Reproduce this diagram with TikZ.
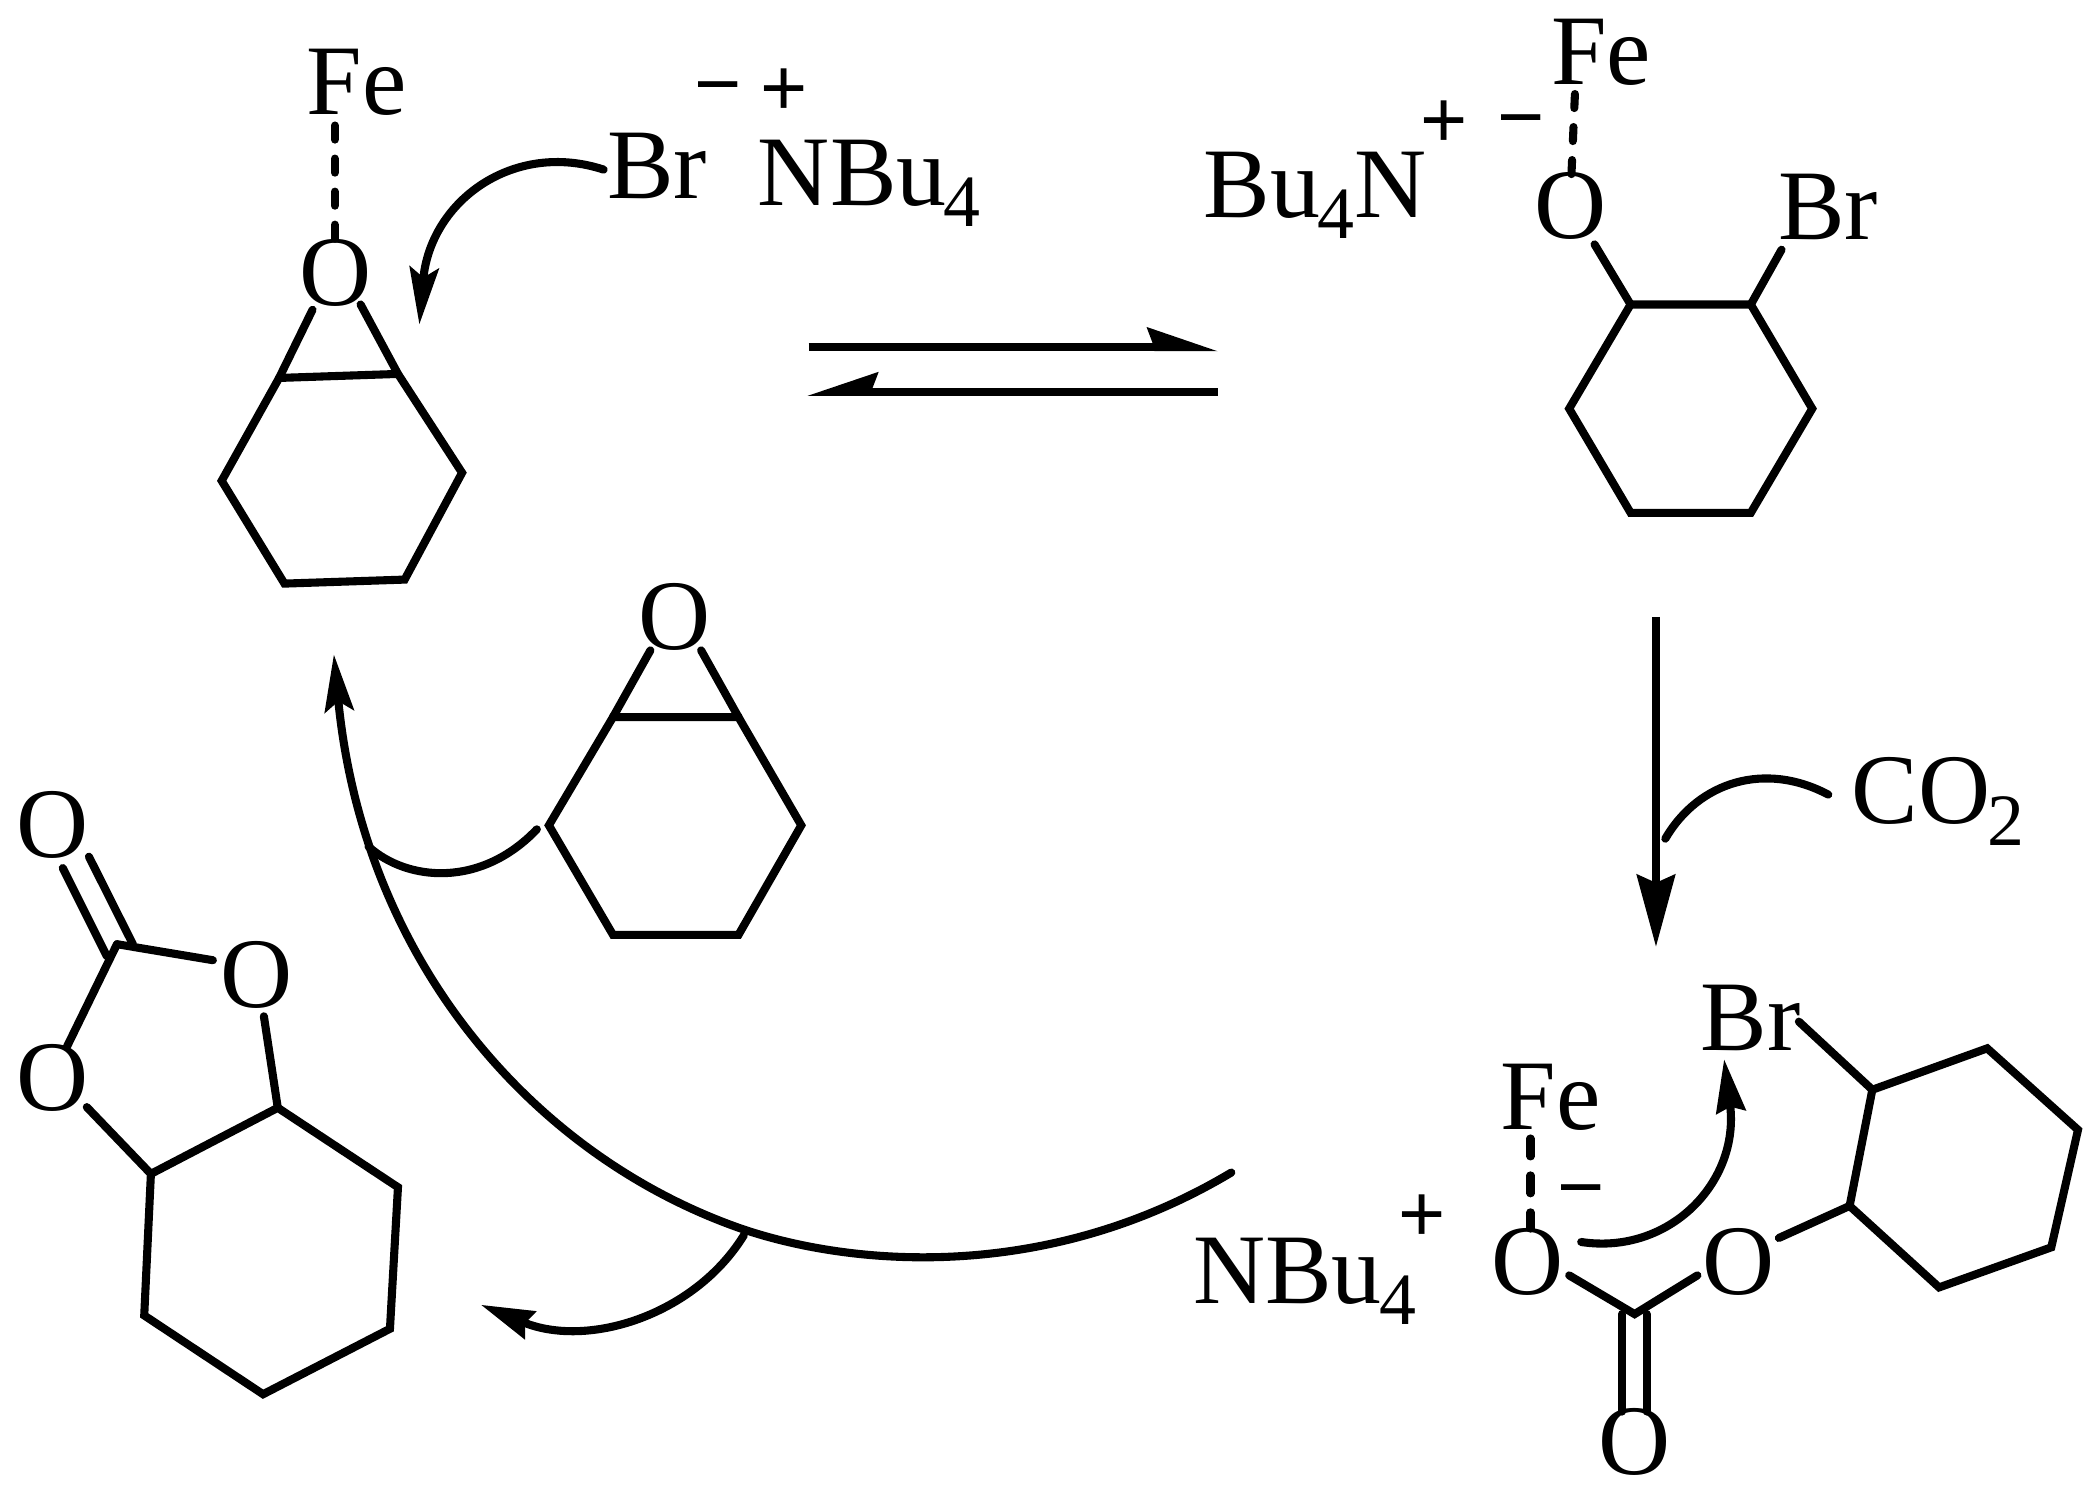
\documentclass[tikz,border=0pt]{standalone}
\usepackage{fontspec}
\setmainfont{Liberation Serif}
\newfontfamily\chgfont{Liberation Sans}
\usetikzlibrary{arrows.meta}
\newcommand{\subf}[1]{\kern-0.8pt\raisebox{-6pt}{\fontsize{21}{21}\selectfont #1}}
\tikzset{
  x=0.013355cm,y=-0.013355cm,
  atom/.style={inner sep=0pt,font=\fontsize{28.4}{32}\selectfont},
  chg/.style={inner sep=0pt,font=\fontsize{23}{28}\selectfont\chgfont},
  bond/.style={line width=2.3pt,line cap=round,line join=miter},
  dbond/.style={line width=2.3pt,line cap=round,dash pattern=on 4pt off 5.4pt},
  curly/.style={line width=2.3pt,line cap=round},
  tipc/.style={-{Stealth[length=0.57cm,width=0.29cm,inset=0.1cm]}},
  tipd/.style={-{Stealth[length=0.72cm,width=0.38cm,inset=0.08cm]}},
  tipe/.style={-{Stealth[length=0.53cm,width=0.29cm,inset=0.05cm]}},
  barb/.style={fill=black,draw=none},
}
\begin{document}
\begin{tikzpicture}
\useasboundingbox (0,0) rectangle (1568,1120.9);
% ---- top-left
\node[atom] (fe1) at (267,62) {Fe};
\node[atom] (o1) at (251,204) {O};
\node[atom,anchor=base west] (br1) at (454,149) {Br};
\node[chg] (m1) at (538,72) {−};
\node[chg] (p1) at (587,69) {+};
\node[atom,anchor=base west] (nbu1) at (567,154) {NBu\subf{4}};
\coordinate (a1) at (209,283);\coordinate (a2) at (166,360);\coordinate (a3) at (213,437);
\coordinate (a4) at (303,434);\coordinate (a5) at (346,354);\coordinate (a6) at (298,280);
\coordinate (a7) at (234,232);\coordinate (a8) at (270,228);
\coordinate (a9) at (250.7,94);\coordinate (a10) at (250.7,181);
\draw[bond] (a1)--(a2)--(a3)--(a4)--(a5)--(a6)--(a8);
\draw[bond] (a1)--(a7);
\draw[bond] (a1)--(a6);
\draw[dbond] (a9)--(a10);
\coordinate (c1) at (452,127);\coordinate (c2) at (314,243);
\draw[curly,tipc] (c1) .. controls (385,105) and (322,150) .. (c2);
% ---- equilibrium
\coordinate (e1) at (605.5,259.8);\coordinate (e2) at (868,259.8);\coordinate (e3) at (911.7,293.2);\coordinate (e4) at (650,293.2);
\draw[line width=2.27pt] (e1)--(e2);
\draw[line width=2.27pt] (e3)--(e4);
\fill[barb] (911.7,263)--(858.5,244.8)--(863,256.7)--(864.5,263)--cycle;
\fill[barb] (604.8,296.4)--(658,278.4)--(653.4,290.4)--(652.7,296.4)--cycle;
% ---- top-right
\node[atom] (fe2) at (1199,39) {Fe};
\node[atom] (o2) at (1176,154) {O};
\node[atom] (br2) at (1369,155) {Br};
\node[atom,anchor=base west] (bu) at (901,162.5) {Bu\subf{4}N};
\node[chg] (p2) at (1081,93) {+};
\node[chg] (m2) at (1139,97) {−};
\coordinate (b1) at (1221,228);\coordinate (b2) at (1175,306);\coordinate (b3) at (1221,384);
\coordinate (b4) at (1311,384);\coordinate (b5) at (1357,306);\coordinate (b6) at (1311,228);
\coordinate (b7) at (1194,183);\coordinate (b8) at (1334,187);
\coordinate (b9) at (1179.3,70.4);\coordinate (b10) at (1176.6,133);
\draw[bond] (b1)--(b2)--(b3)--(b4)--(b5)--(b6)--cycle;
\draw[bond] (b1)--(b7);
\draw[bond] (b6)--(b8);
\draw[dbond] (b9)--(b10);
% ---- down arrow
\coordinate (d1) at (1240,462);\coordinate (d2) at (1240,709);
\draw[line width=2.27pt,tipd] (d1)--(d2);
\node[atom,anchor=base west] (co2) at (1386,617) {CO\subf{2}};
\coordinate (d3) at (1369,595);\coordinate (d4) at (1247,628);
\draw[curly] (d3) .. controls (1322,570) and (1272,585) .. (d4);
% ---- bottom-right
\node[atom] (br3) at (1311,762) {Br};
\node[atom] (fe3) at (1161,822) {Fe};
\node[atom] (o3) at (1144,945) {O};
\node[atom] (o4) at (1302,945) {O};
\node[atom] (o5) at (1224,1080) {O};
\node[chg] (m3) at (1184,898) {−};
\node[chg] (p3) at (1065,912) {+};
\node[atom,anchor=base west] (nbu3) at (893,976) {NBu\subf{4}};
\coordinate (f1) at (1402,816);\coordinate (f2) at (1488,785);\coordinate (f3) at (1556,846);
\coordinate (f4) at (1536,934);\coordinate (f5) at (1452,964);\coordinate (f6) at (1385,903);
\coordinate (f7) at (1347,765);\coordinate (f8) at (1332,927);
\coordinate (f9) at (1175,955);\coordinate (f10) at (1224,984);\coordinate (f11) at (1271,955);
\coordinate (f12) at (1214.5,984);\coordinate (f13) at (1214.5,1057);\coordinate (f14) at (1233,984);\coordinate (f15) at (1233,1057);
\coordinate (f16) at (1146,852.5);\coordinate (f17) at (1146,920);
\draw[bond] (f1)--(f2)--(f3)--(f4)--(f5)--(f6)--cycle;
\draw[bond] (f1)--(f7);
\draw[bond] (f6)--(f8);
\draw[bond] (f9)--(f10)--(f11);
\draw[bond] (f12)--(f13);
\draw[bond] (f14)--(f15);
\draw[dbond,dash pattern=on 5.1pt off 5.4pt] (f16)--(f17);
\coordinate (g1) at (1184,930);\coordinate (g2) at (1291,793);
\draw[curly,tipe] (g1) .. controls (1250,940) and (1303,885) .. (g2);
% ---- middle epoxide
\node[atom] (o6) at (505,462) {O};
\coordinate (h1) at (459,537);\coordinate (h2) at (411,618);\coordinate (h3) at (459,700);
\coordinate (h4) at (553,700);\coordinate (h5) at (600,618);\coordinate (h6) at (553,537);
\coordinate (h7) at (487,487);\coordinate (h8) at (525,487);
\draw[bond] (h1)--(h2)--(h3)--(h4)--(h5)--(h6)--cycle;
\draw[bond] (h1)--(h7);
\draw[bond] (h6)--(h8);
% ---- big curve
\coordinate (i1) at (922,878);\coordinate (i2) at (555,920);\coordinate (i3) at (250,490);
\draw[curly,tipc] (i1) .. controls (785,960) and (640,949) .. (i2) .. controls (400,866) and (272,720) .. (i3);
\coordinate (i4) at (276,634);\coordinate (i5) at (402,621);
\draw[curly] (i4) .. controls (305,660) and (360,665) .. (i5);
\coordinate (i6) at (557,925);\coordinate (i7) at (360,977);
\draw[curly,tipe] (i6) .. controls (520,985) and (440,1010) .. (i7);
% ---- carbonate
\node[atom] (o7) at (39.7,617.5) {O};
\node[atom] (o8) at (192,730) {O};
\node[atom] (o9) at (39,807) {O};
\coordinate (j0) at (87.6,707);
\coordinate (j1) at (47,650);\coordinate (j2) at (80,716);\coordinate (j3) at (66.6,641.5);\coordinate (j4) at (99.5,707);
\coordinate (j5) at (159.4,719);\coordinate (j6) at (50,784);
\coordinate (j7) at (197.6,761);\coordinate (j8) at (65,829);
\coordinate (k1) at (208,829.5);\coordinate (k2) at (298,889);\coordinate (k3) at (292,995);
\coordinate (k4) at (197,1044);\coordinate (k5) at (108,985);\coordinate (k6) at (113,879);
\draw[bond] (j1)--(j2);
\draw[bond] (j3)--(j4);
\draw[bond] (j0)--(j5);
\draw[bond] (j0)--(j6);
\draw[bond] (j7)--(k1);
\draw[bond] (j8)--(k6);
\draw[bond] (k1)--(k2)--(k3)--(k4)--(k5)--(k6)--cycle;
\end{tikzpicture}
\end{document}
